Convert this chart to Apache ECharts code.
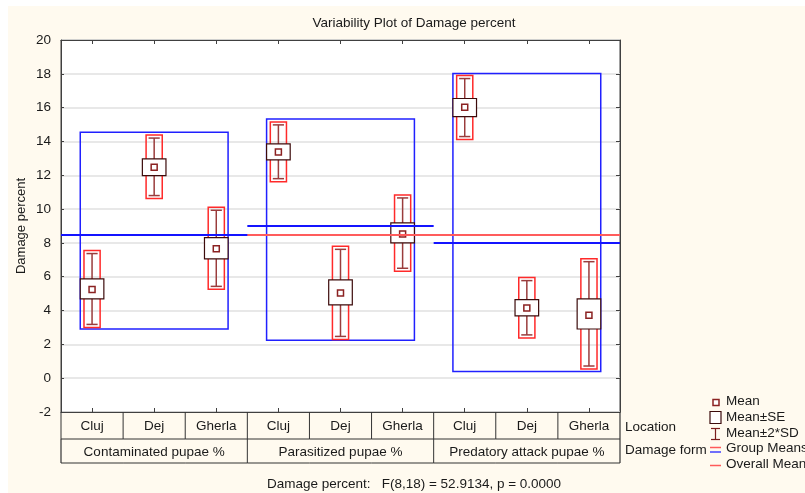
<!DOCTYPE html>
<html>
<head>
<meta charset="utf-8">
<script src="https://cdn.jsdelivr.net/npm/echarts@6/dist/echarts.min.js"></script>
<style>
  html, body { margin: 0; padding: 0; background: #fff; }
  #chart { position: absolute; left: 8px; top: 6px; width: 797px; height: 487px; background: #fffaef; }
</style>
</head>
<body>
<div id="chart"></div>
<script>
// location under each damage form
var locations = ['Cluj', 'Dej', 'Gherla', 'Cluj', 'Dej', 'Gherla', 'Cluj', 'Dej', 'Gherla'];
var damageForms = ['Contaminated pupae %', 'Parasitized pupae %', 'Predatory attack pupae %'];

// per cell statistics
var means  = [5.24, 12.47, 7.66, 13.38, 5.04, 8.53, 16.02, 4.15, 3.72];
var seLow  = [4.69, 11.98, 7.05, 12.91, 4.33, 8.00, 15.47, 3.68, 2.91];
var seHigh = [5.87, 12.97, 8.31, 13.86, 5.81, 9.18, 16.54, 4.64, 4.69];
var sdLow  = [3.18, 10.80, 5.43, 11.80, 2.47, 6.50, 14.29, 2.56, 0.72];
var sdHigh = [7.37, 14.20, 9.93, 14.98, 7.62, 10.66, 17.72, 5.77, 6.89];

// group level
var groupMeans = [8.47, 8.98, 7.98];
var groupLow   = [2.91, 2.24, 0.40];
var groupHigh  = [14.55, 15.33, 18.02];
var overallMean = 8.47;

var yTicks = { min: -2, max: 20, interval: 2 };

var OX = 8, OY = 6; // offset of chart div in the page
var FONT = 'Liberation Sans, Arial, sans-serif';
var TXT = '#1a1a1a';

var chart = echarts.init(document.getElementById('chart'));

var pointData = means.map(function (m, i) {
    return [i, m, seLow[i], seHigh[i], sdLow[i], sdHigh[i]];
});
var boxData = groupMeans.map(function (g, k) {
    return [k * 3, k * 3 + 2, groupLow[k], groupHigh[k]];
});
var overallData = [[0, locations.length - 1, overallMean]];
var groupLineData = groupMeans.map(function (g, k) {
    return [k * 3, k * 3 + 2, g];
});
var tableData = locations.map(function (l, i) { return [i, yTicks.min]; });

function renderPoint(params, api) {
    var i = api.value(0);
    var bw = api.size([1, 0])[0];
    var x = api.coord([i, api.value(1)])[0];
    var yp = function (v) { return api.coord([i, v])[1]; };
    var m = yp(api.value(1));
    var seLo = yp(api.value(2)), seHi = yp(api.value(3));
    var sdLo = yp(api.value(4)), sdHi = yp(api.value(5));
    var seW = bw * 0.38, redW = bw * 0.26, capW = bw * 0.18, mk = 6;
    var wcol = '#9a3c3c';
    return {
        type: 'group',
        children: [
            { type: 'rect', shape: { x: x - redW / 2, y: sdHi - 3, width: redW, height: sdLo - sdHi + 6 },
              style: { fill: 'none', stroke: '#ff2a2a', lineWidth: 1.5 } },
            { type: 'line', shape: { x1: x, y1: sdHi, x2: x, y2: sdLo }, style: { stroke: wcol, lineWidth: 1.5 } },
            { type: 'line', shape: { x1: x - capW / 2, y1: sdHi, x2: x + capW / 2, y2: sdHi }, style: { stroke: wcol, lineWidth: 1.5 } },
            { type: 'line', shape: { x1: x - capW / 2, y1: sdLo, x2: x + capW / 2, y2: sdLo }, style: { stroke: wcol, lineWidth: 1.5 } },
            { type: 'rect', shape: { x: x - seW / 2, y: seHi, width: seW, height: seLo - seHi },
              style: { fill: '#fff', stroke: '#3c0b0b', lineWidth: 1.2 } },
            { type: 'rect', shape: { x: x - mk / 2, y: m - mk / 2, width: mk, height: mk },
              style: { fill: '#fff', stroke: '#8b2222', lineWidth: 1.5 } }
        ]
    };
}

function renderBox(params, api) {
    var bw = api.size([1, 0])[0];
    var seW = bw * 0.38;
    var p0 = api.coord([api.value(0), api.value(3)]);
    var p1 = api.coord([api.value(1), api.value(2)]);
    return {
        type: 'rect',
        shape: { x: p0[0] - seW / 2, y: p0[1], width: p1[0] - p0[0] + seW, height: p1[1] - p0[1] },
        style: { fill: 'none', stroke: '#2020ff', lineWidth: 1.5 }
    };
}

function lineRenderer(color, width) {
    return function (params, api) {
        var bw = api.size([1, 0])[0];
        var v = api.value(2);
        var p0 = api.coord([api.value(0), v]);
        var p1 = api.coord([api.value(1), v]);
        var y = Math.round(p0[1]);
        return {
            type: 'line',
            shape: { x1: p0[0] - bw / 2, y1: y, x2: p1[0] + bw / 2, y2: y },
            style: { stroke: color, lineWidth: width }
        };
    };
}

function renderTable(params, api) {
    var i = api.value(0);
    var bw = api.size([1, 0])[0];
    var p = api.coord([i, api.value(1)]);
    var x0 = p[0] - bw / 2, y0 = p[1];
    var h1 = 27, h2 = 24;
    var lc = '#333';
    var ch = [
        { type: 'line', shape: { x1: x0, y1: y0, x2: x0, y2: y0 + h1 }, style: { stroke: lc, lineWidth: 1 } },
        { type: 'line', shape: { x1: x0, y1: y0 + h1, x2: x0 + bw, y2: y0 + h1 }, style: { stroke: lc, lineWidth: 1 } },
        { type: 'line', shape: { x1: x0, y1: y0 + h1 + h2, x2: x0 + bw, y2: y0 + h1 + h2 }, style: { stroke: lc, lineWidth: 1.2 } },
        { type: 'text', style: { text: locations[i], x: p[0], y: y0 + h1 / 2 + 1, align: 'center', verticalAlign: 'middle',
          font: '13.5px ' + FONT, fill: TXT } }
    ];
    if (i === locations.length - 1) {
        ch.push({ type: 'line', shape: { x1: x0 + bw, y1: y0, x2: x0 + bw, y2: y0 + h1 + h2 }, style: { stroke: lc, lineWidth: 1.2 } });
    }
    if (i % 3 === 0) {
        ch.push({ type: 'line', shape: { x1: x0, y1: y0 + h1, x2: x0, y2: y0 + h1 + h2 }, style: { stroke: lc, lineWidth: i === 0 ? 1.2 : 1 } });
        ch.push({ type: 'text', style: { text: damageForms[i / 3], x: x0 + bw * 1.5, y: y0 + h1 + h2 / 2 + 1,
          align: 'center', verticalAlign: 'middle', font: '13.5px ' + FONT, fill: TXT } });
    }
    return { type: 'group', children: ch };
}

function legendItems() {
    var items = [];
    var tx = 726 - OX;
    var labels = [['Mean', 402], ['Mean\u00b1SE', 417.5], ['Mean\u00b12*SD', 433.5], ['Group Means', 449], ['Overall Mean', 465]];
    labels.forEach(function (l) {
        items.push({ type: 'text', left: tx, top: l[1] - OY - 7.5,
            style: { text: l[0], font: '13.5px ' + FONT, fill: TXT } });
    });
    var sx = 710 - OX;
    items.push({ type: 'rect', shape: { x: 713 - OX, y: 399.5 - OY, width: 6, height: 6 }, style: { fill: '#fff', stroke: '#8b2222', lineWidth: 1.5 } });
    items.push({ type: 'rect', shape: { x: 710 - OX, y: 411.5 - OY, width: 11, height: 12 }, style: { fill: '#fff', stroke: '#3c0b0b', lineWidth: 1.2 } });
    items.push({ type: 'line', shape: { x1: 715.5 - OX, y1: 428.5 - OY, x2: 715.5 - OX, y2: 439.5 - OY }, style: { stroke: '#7a1c1c', lineWidth: 1.2 } });
    items.push({ type: 'line', shape: { x1: 711 - OX, y1: 428.5 - OY, x2: 720 - OX, y2: 428.5 - OY }, style: { stroke: '#7a1c1c', lineWidth: 1.2 } });
    items.push({ type: 'line', shape: { x1: 711 - OX, y1: 439.5 - OY, x2: 720 - OX, y2: 439.5 - OY }, style: { stroke: '#7a1c1c', lineWidth: 1.2 } });
    items.push({ type: 'line', shape: { x1: sx, y1: 447.5 - OY, x2: 721 - OX, y2: 447.5 - OY }, style: { stroke: '#ff5a5a', lineWidth: 1.5 } });
    items.push({ type: 'line', shape: { x1: sx, y1: 452 - OY, x2: 721 - OX, y2: 452 - OY }, style: { stroke: '#4040ff', lineWidth: 1.5 } });
    items.push({ type: 'line', shape: { x1: sx, y1: 465.5 - OY, x2: 721 - OX, y2: 465.5 - OY }, style: { stroke: '#ff5a5a', lineWidth: 1.5 } });
    // row names of the table
    items.push({ type: 'text', left: 625 - OX, top: 428 - OY - 8, style: { text: 'Location', font: '13.5px ' + FONT, fill: TXT } });
    items.push({ type: 'text', left: 625 - OX, top: 451 - OY - 8, style: { text: 'Damage form', font: '13.5px ' + FONT, fill: TXT } });
    // axis name, title and footer
    items.push({ type: 'text', x: 21 - OX, y: 226 - OY, rotation: Math.PI / 2, style: { text: 'Damage percent',
        font: '13px ' + FONT, fill: TXT, align: 'center', verticalAlign: 'middle' } });
    items.push({ type: 'text', x: 414 - OX, y: 23 - OY, style: { text: 'Variability Plot of Damage percent',
        font: '13.5px ' + FONT, fill: TXT, align: 'center', verticalAlign: 'middle' } });
    items.push({ type: 'text', x: 414 - OX, y: 484 - OY, style: { text: 'Damage percent:   F(8,18) = 52.9134, p = 0.0000',
        font: '13.5px ' + FONT, fill: TXT, align: 'center', verticalAlign: 'middle' } });
    return items;
}

var xAxisBase = {
    type: 'category', data: locations,
    axisLine: { show: true, onZero: false, lineStyle: { color: '#404040' } },
    axisTick: { show: true, inside: true, alignWithLabel: true, length: 4, lineStyle: { color: '#404040' } },
    axisLabel: { show: false }, splitLine: { show: false }
};

chart.setOption({
    animation: false,
    grid: {
        left: 61 - OX, top: 40 - OY, right: 805 - 620, bottom: 493 - 412,
        outerBoundsMode: 'none', containLabel: false,
        show: true, backgroundColor: '#fff', borderColor: '#404040', borderWidth: 1
    },
    xAxis: [
        Object.assign({}, xAxisBase, { position: 'bottom' }),
        Object.assign({}, xAxisBase, { position: 'top' })
    ],
    yAxis: [{
        type: 'value', min: yTicks.min, max: yTicks.max, interval: yTicks.interval, position: 'left',
        axisLine: { show: true, lineStyle: { color: '#404040' } },
        axisTick: { show: true, inside: true, length: 3, lineStyle: { color: '#404040' } },
        axisLabel: { margin: 10, fontFamily: FONT, fontSize: 13.5, color: TXT },
        splitLine: { show: true, lineStyle: { color: '#e0e0e0', width: 1.5 } }
    }, {
        type: 'value', min: yTicks.min, max: yTicks.max, interval: yTicks.interval, position: 'right',
        axisLine: { show: true, lineStyle: { color: '#404040' } },
        axisTick: { show: true, inside: true, length: 4, lineStyle: { color: '#404040' } },
        axisLabel: { show: false }, splitLine: { show: false }
    }],
    graphic: legendItems(),
    series: [
        { type: 'custom', name: 'groupBox', renderItem: renderBox, data: boxData, encode: { x: 0, y: 2 }, z: 2 },
        { type: 'custom', name: 'points', renderItem: renderPoint, data: pointData, encode: { x: 0, y: 1 }, z: 3 },
        { type: 'custom', name: 'overall', renderItem: lineRenderer('#ff5c5c', 2), data: overallData, encode: { x: 0, y: 2 }, z: 4 },
        { type: 'custom', name: 'groupMeans', renderItem: lineRenderer('#1414ff', 2), data: groupLineData, encode: { x: 0, y: 2 }, z: 5 },
        { type: 'custom', name: 'table', renderItem: renderTable, data: tableData, encode: { x: 0, y: 1 }, clip: false, z: 6, silent: true }
    ]
});
</script>
</body>
</html>
